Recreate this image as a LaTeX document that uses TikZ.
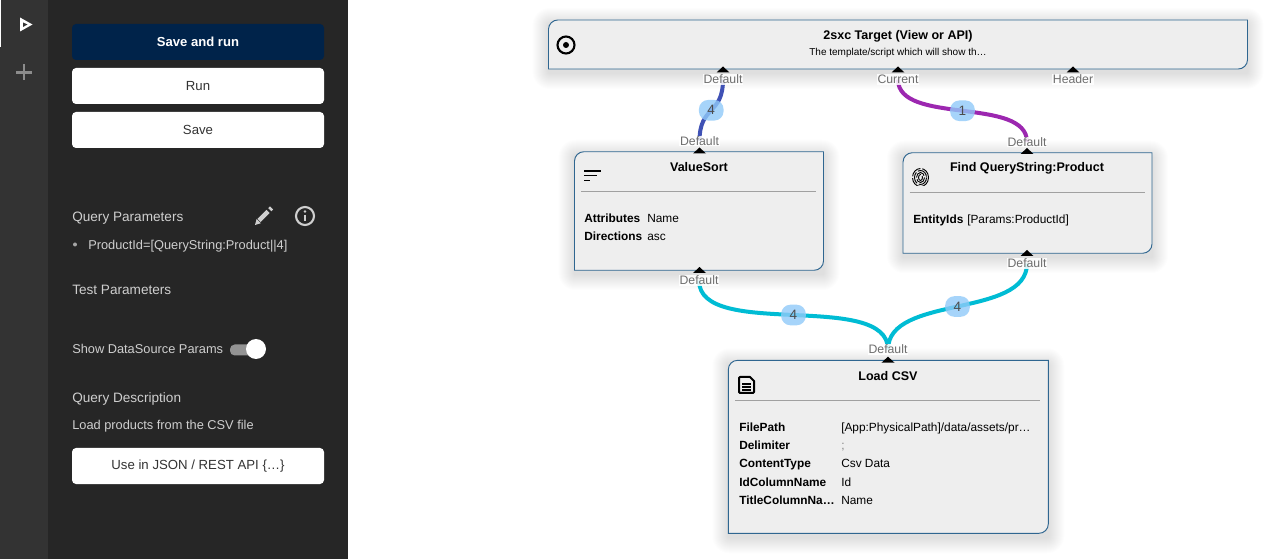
\documentclass[tikz,border=0pt]{standalone}
\usepackage{fontspec}
\setmainfont{Liberation Sans}
\definecolor{stripcol}{HTML}{333333}
\definecolor{panelcol}{HTML}{262626}
\definecolor{navycol}{HTML}{00234A}
\definecolor{sidetext}{HTML}{CFCFCF}
\definecolor{boxfill}{HTML}{EEEEEE}
\definecolor{boxline}{HTML}{2F6690}
\definecolor{rulecol}{HTML}{A0A0A0}
\definecolor{labelcol}{HTML}{6E6E6E}
\definecolor{badgecol}{HTML}{90CAF9}
\definecolor{edgeblue}{HTML}{3F51B5}
\definecolor{edgepurple}{HTML}{9C27B0}
\definecolor{edgeteal}{HTML}{00BCD4}
\pgfdeclarelayer{shade}
\pgfdeclarelayer{edges}
\pgfsetlayers{shade,edges,main}
\tikzset{
	sidebtn/.style={fill=white,rounded corners=3pt,minimum width=189pt,minimum height=27pt,inner sep=0pt,font=\fontsize{9.9pt}{12pt}\selectfont,text=black!80},
	sidetxt/.style={anchor=base west,inner sep=0pt,text=sidetext,font=\fontsize{10.2pt}{12pt}\selectfont},
	flowbox/.style 2 args={minimum width=#1*.75pt,minimum height=#2*.75pt,inner sep=0pt,outer sep=0pt},
	boxtitle/.style={inner sep=0pt,font=\bfseries\fontsize{9.4pt}{11pt}\selectfont},
	fieldkey/.style={anchor=base west,inner sep=0pt,font=\bfseries\fontsize{8.9pt}{10pt}\selectfont},
	fieldval/.style={anchor=base west,inner sep=0pt,font=\fontsize{8.9pt}{10pt}\selectfont},
	portlabel/.style={fill=white,fill opacity=.85,text opacity=1,text=labelcol,inner sep=.6pt,font=\fontsize{9.2pt}{10pt}\selectfont},
	badge/.style={fill=badgecol,fill opacity=.8,text opacity=1,text=black!70,rounded corners=7pt,minimum width=18.5pt,minimum height=15.5pt,inner sep=0pt,font=\fontsize{10.2pt}{12pt}\selectfont},
	edgeline/.style={line width=3pt,#1},
}
\newcommand{\boxbody}[1]{%
	\begin{pgfonlayer}{shade}
	\foreach\s in {1,...,16}{%
	\fill[black,opacity=.009,rounded corners=\s*.75pt+1pt]([xshift=-\s*.75pt,yshift=\s*.75pt-3pt]#1.north west)rectangle([xshift=\s*.75pt,yshift=-\s*.75pt-3pt]#1.south east);}
	\end{pgfonlayer}
	\draw[boxline,fill=boxfill,line width=.7pt]([yshift=7pt]#1.south west)--([yshift=-7pt]#1.north west)to[out=90,in=180]([xshift=7pt]#1.north west)--(#1.north east)--([yshift=7pt]#1.south east)to[out=-90,in=0]([xshift=-7pt]#1.south east)--(#1.south west)--cycle;
}
\begin{document}
\begin{tikzpicture}[x=.75pt,y=-.75pt]
	\useasboundingbox(0,0)rectangle(1278,559);
	\begin{pgfonlayer}{shade}
	\fill[white](0,0)rectangle(1278,559);
	\fill[panelcol](48,0)rectangle(348,559);
	\fill[stripcol](0,0)rectangle(48,559);
	\fill[white](0,0)rectangle(1.2,47);
	\end{pgfonlayer}
	\fill[white](20,17.5)--(32.5,24.5)--(20,31.5)--cycle;
	\fill[stripcol](23,22.5)--(27.5,24.5)--(23,27)--cycle;
	\draw[gray!90,line width=1.7pt](16,72.5)--(32,72.5)(24,64.5)--(24,80.5);
	\node[sidebtn,fill=navycol,text=white,font=\bfseries\fontsize{9.8pt}{12pt}\selectfont](saverun)at(198,42){Save and run};
	\node[sidebtn](run)at(198,86){Run};
	\node[sidebtn](save)at(198,130){Save};
	\node[sidebtn](useapi)at(198,466){Use in JSON / REST API \{…\}};
	\node[sidetxt](qparams)at(72,221.5){Query Parameters};
	\fill[sidetext!80!black](75,244.5)circle(2);
	\node[sidetxt,font=\fontsize{9.6pt}{12pt}\selectfont](prodid)at(88,249.5){ProductId=[QueryString:Product||4]};
	\node[sidetxt](tparams)at(72,294.5){Test Parameters};
	\node[sidetxt,font=\fontsize{9.6pt}{12pt}\selectfont](showds)at(72,353.5){Show DataSource Params};
	\node[sidetxt](qdesc)at(72,402.5){Query Description};
	\node[sidetxt,font=\fontsize{9.6pt}{12pt}\selectfont](qtext)at(72,429.5){Load products from the CSV file};
	\draw[sidetext,line width=3.4pt](259,220.5)--(268,211.5);
	\draw[sidetext,line width=3.4pt](269.8,209.7)--(271.5,208);
	\fill[sidetext](255,225)--(256.6,219)--(260.8,223.2)--cycle;
	\draw[sidetext,line width=1.6pt](305,216)circle(9);
	\fill[sidetext](305,211.5)circle(1.3);
	\draw[sidetext,line width=1.5pt](305,215)--(305,221.5);
	\fill[gray!85,rounded corners=3.5pt](230,344.5)rectangle(258,355.5);
	\fill[white](256,349)circle(10);
	\node[flowbox={699}{49}](target)at(898,44.5){};
	\node[flowbox={249}{118.5}](vsort)at(699,211){};
	\node[flowbox={249}{100.5}](findqs)at(1027.5,203){};
	\node[flowbox={320}{173}](loadcsv)at(888.3,446.8){};
	\foreach\b in {target,vsort,findqs,loadcsv}{\boxbody{\b}}
	\draw[rulecol,line width=.6pt](581,191.3)--(816,191.3);
	\draw[rulecol,line width=.6pt](909.5,192.5)--(1145,192.5);
	\draw[rulecol,line width=.6pt](735,400.5)--(1040,400.5);
	\node[boxtitle](ttitle)at(898,36){2sxc Target (View or API)};
	\node[inner sep=0pt,font=\fontsize{7.5pt}{8pt}\selectfont](tsub)at(898,52.5){The template/script which will show th…};
	\node[boxtitle](vtitle)at(699,167){ValueSort};
	\node[boxtitle](ftitle)at(1027,168){Find QueryString:Product};
	\node[boxtitle](ltitle)at(888,376){Load CSV};
	\node[fieldkey](vk1)at(584,223){Attributes};
	\node[fieldval](vv1)at(647,223){Name};
	\node[fieldkey](vk2)at(584,241){Directions};
	\node[fieldval](vv2)at(647,241){asc};
	\node[fieldkey](fk1)at(913,224){EntityIds};
	\node[fieldval](fv1)at(967,224){[Params:ProductId]};
	\foreach\n/\ypos/\k/\v in {1/431.5/FilePath/{[App:PhysicalPath]/data/assets/pr…},3/468/ContentType/Csv Data,4/486/IdColumnName/Id,5/504/TitleColumnNa…/Name}{%
	\node[fieldkey](lk\n)at(739,\ypos){\k};
	\node[fieldval](lv\n)at(841,\ypos){\v};}
	\node[fieldkey](lk2)at(739,450){Delimiter};
	\node[fieldval,text=gray](lv2)at(841,450){;};
	\foreach\n/\px/\py/\t in {ptA/723/79.5/Default,ptB/898/79.5/Current,ptC/1073/79.5/Header,vsIn/699.5/141/Default,fqIn/1027/142/Default,vsOut/699/280.5/Default,fqOut/1027/263.5/Default,lcIn/888/349.5/Default}{%
	\node[portlabel](\n)at(\px,\py){\t};}
	\foreach\px/\py in {723/69.5,898/69.5,1073/69.5,699.5/150.5,1027/151,699.5/270,1027/253,888/359.7}{%
	\fill[black]({\px-6.5},{\py+3})--(\px,{\py-3})--({\px+6.5},{\py+3})--cycle;}
	\begin{pgfonlayer}{edges}
	\draw[edgeline=edgeblue](ptA.center).. controls +(0,36) and +(0,-36) ..node[badge,pos=.5](bA){4}(vsIn.center);
	\draw[edgeline=edgepurple](ptB.center).. controls +(0,46) and +(0,-46) ..node[badge,pos=.5](bB){1}(fqIn.center);
	\draw[edgeline=edgeteal](vsOut.center).. controls +(0,60) and +(0,-60) ..node[badge,pos=.5](bC){4}(lcIn.center);
	\draw[edgeline=edgeteal](fqOut.center).. controls +(0,55) and +(0,-55) ..node[badge,pos=.5](bD){4}(lcIn.center);
	\end{pgfonlayer}
	\draw[black,line width=1.6pt](566,45)circle(8.5);
	\fill[black](566,45)circle(3);
	\foreach\yl/\xe in {171/601,175.7/596.5,180.5/590}{\draw[black,line width=1.2pt](584,\yl)--(\xe,\yl);}
	\begin{scope}
	\clip(912,168)rectangle(929.5,186);
	\foreach\r in {2,4,6,8}{%
	\draw[black,line width=.7pt,dash pattern=on 9pt off 1.4pt](920.5,177.5)ellipse[x radius=\r,y radius=\r+1];}
	\end{scope}
	\draw[black,line width=1.5pt,line join=round](750,377)--(740,377)--(739,378)--(739,392)--(740,393)--(753,393)--(754,392)--(754,381)--cycle;
	\draw[black,line width=1.1pt](742,384)--(751,384)(742,387)--(751,387)(742,390)--(751,390);
\end{tikzpicture}
\end{document}
